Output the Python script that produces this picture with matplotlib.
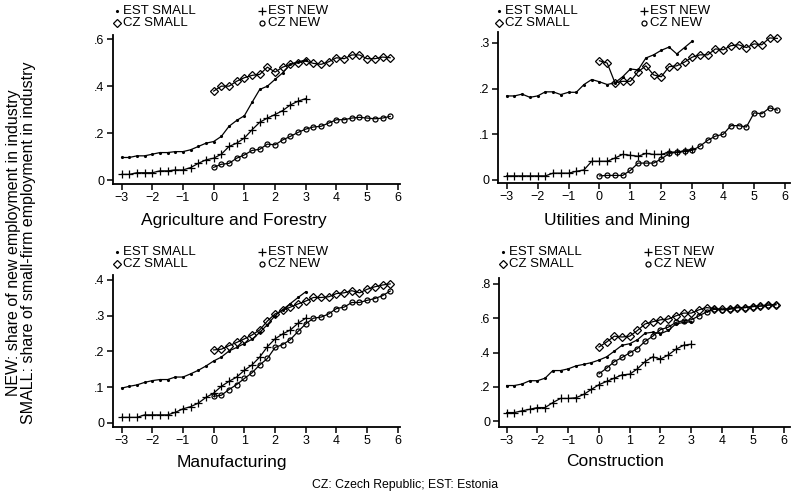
import numpy as np
import matplotlib
matplotlib.use("Agg")
from matplotlib import pyplot as plt
from matplotlib.lines import Line2D

plt.rcParams['font.family'] = ['Liberation Sans', 'DejaVu Sans']

# quarters relative to start of transition
x_est = [-3, -2.75, -2.5, -2.25, -2, -1.75, -1.5, -1.25, -1, -0.75, -0.5, -0.25,
         0, 0.25, 0.5, 0.75, 1, 1.25, 1.5, 1.75, 2, 2.25, 2.5, 2.75, 3]
x_cz = [0, 0.25, 0.5, 0.75, 1, 1.25, 1.5, 1.75, 2, 2.25, 2.5, 2.75,
        3, 3.25, 3.5, 3.75, 4, 4.25, 4.5, 4.75, 5, 5.25, 5.5, 5.75]

# Agriculture and Forestry
agr_est_small = [0.096, 0.096, 0.103, 0.103, 0.110, 0.117, 0.117, 0.121, 0.121, 0.129, 0.143, 0.157,
                 0.164, 0.186, 0.229, 0.254, 0.274, 0.331, 0.386, 0.400, 0.429, 0.457, 0.493, 0.504, 0.511]
agr_est_new = [0.024, 0.024, 0.031, 0.031, 0.031, 0.039, 0.039, 0.043, 0.043, 0.053, 0.071, 0.086,
               0.093, 0.110, 0.143, 0.157, 0.179, 0.214, 0.246, 0.264, 0.279, 0.296, 0.320, 0.336, 0.347]
agr_cz_small = [0.379, 0.400, 0.400, 0.421, 0.436, 0.446, 0.450, 0.481, 0.460, 0.481, 0.493, 0.500,
                0.507, 0.497, 0.493, 0.504, 0.521, 0.517, 0.533, 0.533, 0.517, 0.517, 0.524, 0.521]
agr_cz_new = [0.054, 0.067, 0.071, 0.093, 0.107, 0.126, 0.131, 0.153, 0.150, 0.171, 0.186, 0.203,
              0.217, 0.226, 0.229, 0.243, 0.257, 0.257, 0.264, 0.267, 0.264, 0.261, 0.264, 0.271]

# Utilities and Mining
utl_est_small = [0.184, 0.184, 0.188, 0.181, 0.184, 0.193, 0.193, 0.187, 0.192, 0.192, 0.209, 0.220,
                 0.215, 0.209, 0.213, 0.226, 0.243, 0.241, 0.267, 0.274, 0.284, 0.291, 0.276, 0.290, 0.304]
utl_est_new = [0.009, 0.009, 0.009, 0.009, 0.009, 0.009, 0.015, 0.015, 0.015, 0.019, 0.022, 0.041,
               0.041, 0.041, 0.048, 0.056, 0.054, 0.052, 0.058, 0.056, 0.056, 0.061, 0.061, 0.063, 0.067]
utl_cz_small = [0.261, 0.256, 0.213, 0.216, 0.216, 0.237, 0.250, 0.230, 0.226, 0.248, 0.250, 0.258,
                0.269, 0.274, 0.274, 0.287, 0.285, 0.294, 0.296, 0.290, 0.298, 0.296, 0.311, 0.310]
utl_cz_new = [0.009, 0.010, 0.010, 0.010, 0.021, 0.037, 0.037, 0.037, 0.046, 0.058, 0.061, 0.064,
              0.065, 0.074, 0.087, 0.096, 0.100, 0.119, 0.119, 0.116, 0.147, 0.145, 0.158, 0.153]

# Manufacturing
man_est_small = [0.097, 0.102, 0.106, 0.113, 0.118, 0.121, 0.121, 0.128, 0.128, 0.137, 0.147, 0.159,
                 0.173, 0.184, 0.201, 0.211, 0.222, 0.234, 0.253, 0.275, 0.300, 0.317, 0.334, 0.351, 0.367]
man_est_new = [0.015, 0.015, 0.015, 0.022, 0.022, 0.022, 0.022, 0.029, 0.039, 0.045, 0.055, 0.071,
               0.083, 0.102, 0.116, 0.128, 0.147, 0.162, 0.184, 0.213, 0.235, 0.249, 0.260, 0.279, 0.293]
man_cz_small = [0.204, 0.206, 0.216, 0.225, 0.235, 0.246, 0.260, 0.285, 0.305, 0.315, 0.324, 0.333,
                0.341, 0.351, 0.351, 0.353, 0.362, 0.364, 0.370, 0.364, 0.374, 0.381, 0.386, 0.389]
man_cz_new = [0.074, 0.077, 0.093, 0.107, 0.124, 0.140, 0.162, 0.180, 0.211, 0.219, 0.233, 0.256,
              0.277, 0.293, 0.296, 0.305, 0.320, 0.324, 0.337, 0.337, 0.343, 0.348, 0.356, 0.369]

# Construction
con_est_small = [0.208, 0.208, 0.217, 0.236, 0.236, 0.251, 0.295, 0.295, 0.305, 0.322, 0.331, 0.341,
                 0.356, 0.375, 0.408, 0.442, 0.451, 0.474, 0.512, 0.518, 0.509, 0.528, 0.566, 0.575, 0.579]
con_est_new = [0.051, 0.051, 0.061, 0.070, 0.080, 0.080, 0.109, 0.133, 0.133, 0.137, 0.156, 0.185,
               0.213, 0.232, 0.251, 0.270, 0.274, 0.305, 0.347, 0.375, 0.362, 0.385, 0.419, 0.442, 0.448]
con_cz_small = [0.432, 0.461, 0.495, 0.490, 0.495, 0.528, 0.566, 0.579, 0.590, 0.594, 0.613, 0.629,
                0.629, 0.648, 0.661, 0.655, 0.651, 0.655, 0.661, 0.661, 0.667, 0.670, 0.676, 0.678]
con_cz_new = [0.276, 0.309, 0.347, 0.371, 0.398, 0.423, 0.465, 0.495, 0.533, 0.547, 0.575, 0.585,
              0.590, 0.613, 0.636, 0.651, 0.648, 0.651, 0.661, 0.661, 0.667, 0.670, 0.676, 0.678]

W, H = 795, 503
fig = plt.figure(figsize=(W / 100, H / 100), dpi=100)


def px_box(left, top, right, bottom):
    return [left / W, 1 - bottom / H, (right - left) / W, (bottom - top) / H]


# marker styles: est small = point, est new = plus, cz small = diamond, cz new = circle
styles = {
    'EST SMALL': dict(marker='.', ms=2.5),
    'EST NEW': dict(marker='+', ms=5.5, mew=0.9),
    'CZ SMALL': dict(marker='D', ms=3.6, mfc='none', mew=0.9),
    'CZ NEW': dict(marker='o', ms=3.6, mfc='none', mew=0.9),
}

panels = [
    # title, box, xlim, ylim, yticks, yticklabels, data, title pos, legend pos
    ("Agriculture and Forestry", (113, 35, 400, 184), (-3.28, 6.07), (-0.017, 0.618),
     [0, 0.2, 0.4, 0.6], ['0', '.2', '.4', '.6'],
     (agr_est_small, agr_est_new, agr_cz_small, agr_cz_new), (234, 221), (117, 11)),
    ("Utilities and Mining", (498, 32, 790, 183), (-3.28, 6.16), (-0.0066, 0.324),
     [0, 0.1, 0.2, 0.3], ['0', '.1', '.2', '.3'],
     (utl_est_small, utl_est_new, utl_cz_small, utl_cz_new), (617, 221), (499, 11)),
    ("Manufacturing", (113, 275, 400, 427), (-3.28, 6.07), (-0.012, 0.414),
     [0, 0.1, 0.2, 0.3, 0.4], ['0', '.1', '.2', '.3', '.4'],
     (man_est_small, man_est_new, man_cz_small, man_cz_new), (232, 462), (117, 252)),
    ("Construction", (499, 278, 790, 427), (-3.25, 6.21), (-0.033, 0.833),
     [0, 0.2, 0.4, 0.6, 0.8], ['0', '.2', '.4', '.6', '.8'],
     (con_est_small, con_est_new, con_cz_small, con_cz_new), (615, 462), (503, 252)),
]

names = ['EST SMALL', 'EST NEW', 'CZ SMALL', 'CZ NEW']

for title, box, xlim, ylim, yt, ytl, series, tpos, lpos in panels:
    ax = fig.add_axes(px_box(*box))
    for name, vals in zip(names, series):
        xs = x_est if name.startswith('EST') else x_cz
        ax.plot(xs, vals, color='black', lw=0.9, mec='black', mfc=styles[name].get('mfc', 'black'),
                **{k: v for k, v in styles[name].items() if k != 'mfc'})
    ax.set_xlim(*xlim)
    ax.set_ylim(*ylim)
    ax.set_xticks(range(-3, 7))
    ax.set_yticks(yt)
    ax.set_yticklabels(ytl)
    for s in ['top', 'right']:
        ax.spines[s].set_visible(False)
    for s in ['left', 'bottom']:
        ax.spines[s].set_linewidth(1.3)
    ax.tick_params(direction='out', length=4, width=1.1, labelsize=9, pad=2)

    fig.text(tpos[0] / W, 1 - tpos[1] / H, title, ha='center', va='center', fontsize=12.5)

    # legend: two columns, two rows, markers only
    lx, ly = lpos
    for i, name in enumerate(names):
        cx = lx + (145 if i % 2 else 0)
        cy = ly + (12 if i >= 2 else 0)
        st = styles[name]
        fig.add_artist(Line2D([cx / W], [1 - cy / H], transform=fig.transFigure, ls='none',
                              color='black', mec='black', mfc=st.get('mfc', 'black'),
                              marker=st['marker'], ms=st['ms'], mew=st.get('mew', 1)))
        fig.text((cx + 6) / W, 1 - cy / H, name, ha='left', va='center', fontsize=9.5)

fig.text(21 / W, 1 - 243 / H,
         "NEW: share of new employment in industry\nSMALL: share of small-firm employment in industry",
         rotation=90, ha='center', va='center', fontsize=11.5, linespacing=1.0)
fig.text(405 / W, 1 - 485 / H, "CZ: Czech Republic; EST: Estonia", ha='center', va='center', fontsize=8.8)

fig.savefig('out.png', dpi=100)
